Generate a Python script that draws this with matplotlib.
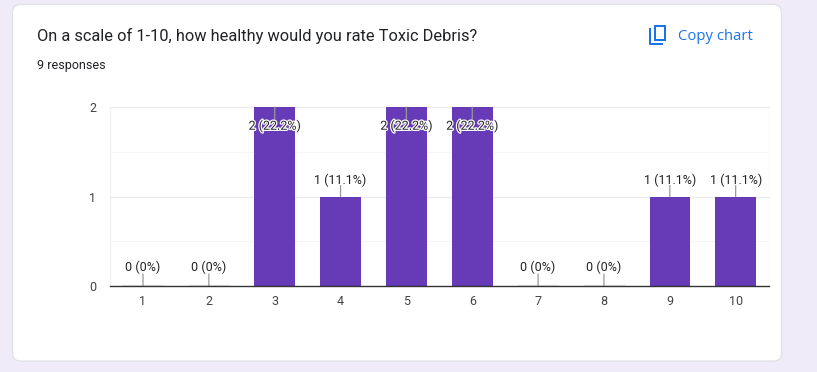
import matplotlib
matplotlib.use("Agg")
import matplotlib.pyplot as plt
import matplotlib.patheffects as pe
from matplotlib.patches import FancyBboxPatch, Rectangle
from matplotlib.lines import Line2D

categories = ["1", "2", "3", "4", "5", "6", "7", "8", "9", "10"]
counts = [0, 0, 2, 1, 2, 2, 0, 0, 1, 1]
labels = ["0 (0%)", "0 (0%)", "2 (22.2%)", "1 (11.1%)", "2 (22.2%)",
          "2 (22.2%)", "0 (0%)", "0 (0%)", "1 (11.1%)", "1 (11.1%)"]
y_ticks = [0, 1, 2]
title = "On a scale of 1-10, how healthy would you rate Toxic Debris?"
subtitle = "9 responses"
copy_text = "Copy chart"

W, H = 817, 372
BAR = "#673ab7"
plt.rcParams["font.family"] = ["Roboto", "Liberation Sans", "DejaVu Sans"]

fig = plt.figure(figsize=(W / 100, H / 100), dpi=100, facecolor="#f0ebf8")

# Pixel-space overlay for the card and its header
bg = fig.add_axes([0, 0, 1, 1], zorder=0)
bg.set_xlim(0, W)
bg.set_ylim(H, 0)
bg.axis("off")
bg.add_patch(FancyBboxPatch((12.5, 4.5), 769, 356.5,
                            boxstyle="round,pad=0,rounding_size=8",
                            fc="white", ec="#dfe1e5", lw=0.9))
bg.text(37, 35.5, title, fontsize=11.76, color="#202124", va="center", ha="left")
bg.text(37, 65, subtitle, fontsize=9, color="#202124", va="center", ha="left")
bg.text(678, 36, copy_text, fontsize=10.7, color="#1a73e8", va="center",
        ha="left", family=["Open Sans", "Roboto"], fontweight="medium")
# copy icon
bg.add_patch(Rectangle((655.5, 26), 9.5, 13.5, fc="white", ec="#1a73e8", lw=1.45, zorder=3))
bg.add_line(Line2D([650, 650, 662.5], [29, 43.5, 43.5], color="#1a73e8", lw=1.45, zorder=3))

# Chart
x0, x1, y_top, y_bot = 110, 769, 107, 286
ax = fig.add_axes([x0 / W, 1 - y_bot / H, (x1 - x0) / W, (y_bot - y_top) / H],
                  zorder=2, facecolor="none")
pos = list(range(len(categories)))
step = 65.85
first = 143.0
ax.set_xlim(-(first - x0) / step, (x1 - first) / step)
ax.set_ylim(0, 2)

for v in [0.5, 1.5]:
    ax.axhline(v, color="#f5f5f5", lw=0.8, zorder=1)
for v in [1, 2]:
    ax.axhline(v, color="#ebebeb", lw=1, zorder=1, clip_on=False)
ax.axvline(ax.get_xlim()[0], color="#f0f0f0", lw=1, zorder=1)
ax.axvline(ax.get_xlim()[1], color="#f0f0f0", lw=1, zorder=1)

ax.bar(pos, counts, width=40.6 / step, color=BAR, zorder=2)
for p, c in zip(pos, counts):
    if c == 0:
        ax.plot([p - 20 / step, p + 20 / step], [0.008, 0.008], color="#e6e6e6",
                lw=1, zorder=2)

px = 0.72
for p, c, lab in zip(pos, counts, labels):
    inside = c == max(counts)
    if inside:
        line_end, text_off = -12, -19
    elif c == 0:
        line_end, text_off = 12, 19
    else:
        line_end, text_off = 11, 16.5
    ax.annotate("", xy=(p, c), xytext=(0, line_end * px), textcoords="offset points",
                xycoords="data", annotation_clip=False,
                arrowprops=dict(arrowstyle="-", color="#999999", lw=0.9,
                                shrinkA=0, shrinkB=0), zorder=3)
    effects = [pe.withStroke(linewidth=1.8, foreground="white")] if inside else None
    ax.annotate(lab, xy=(p, c), xytext=(0, text_off * px), textcoords="offset points",
                ha="center", va="center", fontsize=9, color="#222222",
                path_effects=effects, zorder=4, annotation_clip=False)

for s in ["top", "right", "left"]:
    ax.spines[s].set_visible(False)
ax.spines["bottom"].set_color("#333333")
ax.spines["bottom"].set_linewidth(1)
ax.spines["bottom"].set_zorder(5)
ax.set_xticks(pos, categories)
ax.set_yticks(y_ticks, [str(v) for v in y_ticks])
ax.tick_params(axis="both", length=0, labelsize=9, labelcolor="#444444")
ax.tick_params(axis="x", pad=6.5)
ax.tick_params(axis="y", pad=10)

fig.savefig("out.png", dpi=100, facecolor=fig.get_facecolor())
